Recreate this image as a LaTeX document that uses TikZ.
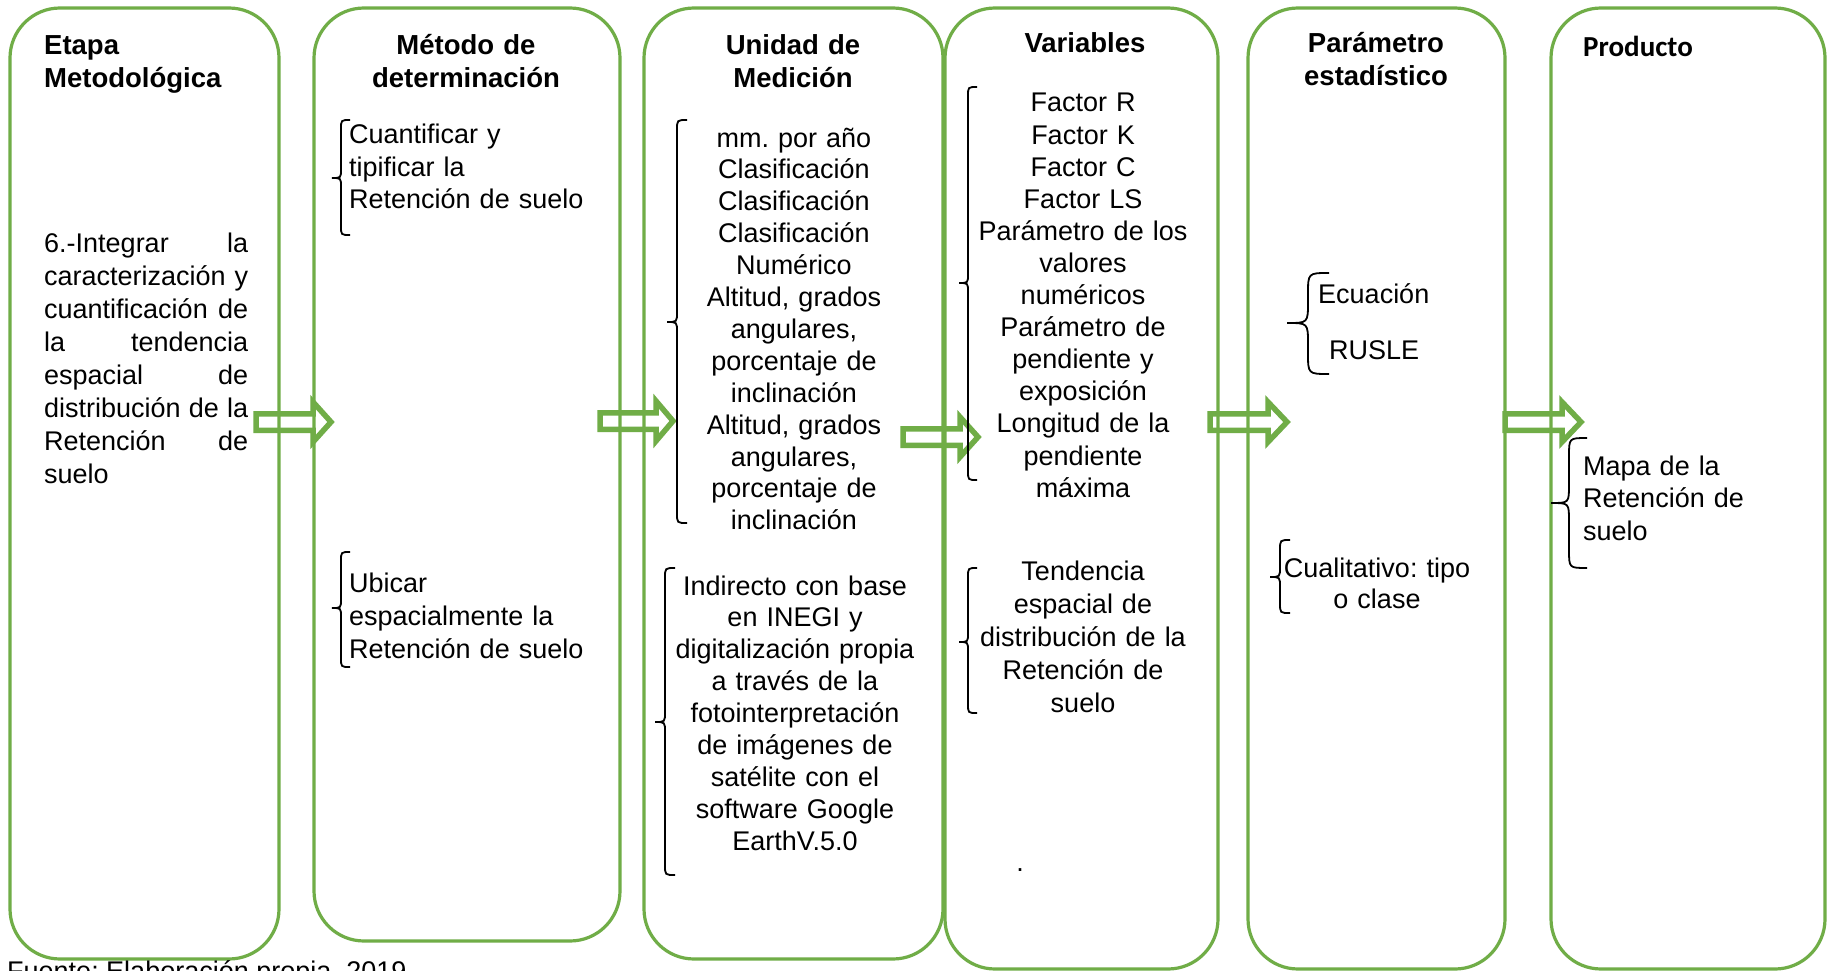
\documentclass[tikz,border=0pt]{standalone}
\usepackage{fontspec}
\setmainfont{Liberation Sans}
\newfontfamily\carlitofam{Carlito}
\definecolor{gr}{RGB}{112,173,71}
\frenchspacing
\newcommand\cbrace[5]{\draw[bracel] (#1+#5,#2) .. controls (#1,#2) .. (#1,#2+#5) -- (#1,#3-#5) .. controls (#1,#3) .. (#1-#5,#3) .. controls (#1,#3) .. (#1,#3+#5) -- (#1,#4-#5) .. controls (#1,#4) .. (#1+#5,#4);}
\newcommand\garrow[4]{\draw[garrowline] (#1,#4-8.25) -- (#2,#4-8.25) -- (#2,#4-20) -- (#3,#4) -- (#2,#4+20) -- (#2,#4+8.25) -- (#1,#4+8.25) -- cycle;}
\newcommand\jline[1]{\leavevmode\makebox[204pt][l]{#1}}
\begin{document}
\begin{tikzpicture}[x=1pt,y=-1pt,
  colbox/.style={draw=gr, line width=3.2pt, rounded corners=50pt, inner sep=0pt, outer sep=0pt},
  garrowline/.style={draw=gr, line width=5.5pt, line join=miter},
  bracel/.style={draw=black, line width=1.8pt},
  hdr/.style={font=\fontsize{27.5}{33}\selectfont\bfseries, inner sep=0pt, text width=300pt, align=center, anchor=base},
  hdrl/.style={font=\fontsize{27.5}{33}\selectfont\bfseries, inner sep=0pt, text width=220pt, align=left, anchor=base west},
  bodyc/.style={font=\fontsize{27}{32}\selectfont, inner sep=0pt, text width=290pt, align=center, anchor=base},
  bodyl/.style={font=\fontsize{27}{33}\selectfont, inner sep=0pt, text width=250pt, align=left, anchor=base west}
]
\useasboundingbox (0,0) rectangle (1828,971);
\clip (0,0) rectangle (1828,971);
\fill[white] (0,0) rectangle (1828,971);

% columns
\node[colbox, minimum width=269pt, minimum height=951pt] (b1) at (144.5,483.5) {};
\node[colbox, minimum width=306pt, minimum height=933pt] (b2) at (467,474.5) {};
\node[colbox, minimum width=299pt, minimum height=951pt] (b3) at (793.5,483.5) {};
\node[colbox, minimum width=273pt, minimum height=961pt] (b4) at (1081.5,488.5) {};
\node[colbox, minimum width=257pt, minimum height=961pt] (b5) at (1376.5,488.5) {};
\node[colbox, minimum width=274pt, minimum height=961pt] (b6) at (1688,488.5) {};

% block arrows
\garrow{256}{313}{331}{422}
\garrow{600}{656}{673}{421}
\garrow{903}{960}{978}{437}
\garrow{1210}{1268}{1287}{422}
\garrow{1505}{1562}{1581}{422}

% headers
\node[hdrl] (h1) at (44,55) {Etapa\\Metodológica};
\node[hdr] (h2) at (466,55) {Método de\\determinación};
\node[hdr] (h3) at (793,55) {Unidad de\\Medición};
\node[hdr] (h4) at (1085,53) {Variables};
\node[hdr] (h5) at (1376,53) {Parámetro\\estadístico};
\node[inner sep=0pt, anchor=base west, font=\carlitofam\fontsize{29}{33}\selectfont\bfseries] (h6) at (1583,57) {Producto};

% column 1
\node[inner sep=0pt, anchor=base west, text width=204pt, align=left, font=\fontsize{27}{33}\selectfont] (t1) at (44,252)
 {\jline{6.-Integrar\hfill la}\\
  \jline{caracterización\hfill y}\\
  \jline{cuantificación\hfill de}\\
  \jline{la\hfill tendencia}\\
  \jline{espacial\hfill de}\\
  \jline{distribución\hfill de\hfill la}\\
  \jline{Retención\hfill de}\\
  suelo};

% column 2
\cbrace{341}{120}{178}{235}{9}
\node[bodyl] (t2a) at (349,143) {Cuantificar y\\tipificar la\\Retención de suelo};
\cbrace{341}{552}{608}{667}{9}
\node[bodyl] (t2b) at (349,592) {Ubicar\\espacialmente la\\Retención de suelo};

% column 3
\cbrace{677}{120}{322}{523}{10}
\node[bodyc, font=\fontsize{27}{31.9}\selectfont] (t3a) at (794,147) {mm. por año\\Clasificación\\Clasificación\\Clasificación\\Numérico\\Altitud, grados\\angulares,\\porcentaje de\\inclinación\\Altitud, grados\\angulares,\\porcentaje de\\inclinación};
\cbrace{665}{568}{722}{875}{10}
\node[bodyc, font=\fontsize{27}{31.9}\selectfont] (t3b) at (795,595) {Indirecto con base\\en INEGI y\\digitalización propia\\a través de la\\fotointerpretación\\de imágenes de\\satélite con el\\software Google\\EarthV.5.0};

% column 4
\cbrace{968}{87}{283}{480}{9}
\node[bodyc, font=\fontsize{27}{32.1}\selectfont] (t4a) at (1083,112) {Factor R\\Factor K\\Factor C\\Factor LS\\Parámetro de los\\valores\\numéricos\\Parámetro de\\pendiente y\\exposición\\Longitud de la\\pendiente\\máxima};
\cbrace{968}{568}{642}{713}{9}
\node[bodyc, font=\fontsize{27}{33}\selectfont] (t4b) at (1083,580) {Tendencia\\espacial de\\distribución de la\\Retención de\\suelo};
\node[inner sep=0pt, anchor=base, font=\fontsize{27}{32}\selectfont] (t4c) at (1020,871) {.};

% column 5
\cbrace{1308}{273}{323}{374}{21}
\node[inner sep=0pt, anchor=base west, font=\fontsize{27}{32}\selectfont] (t5a) at (1318,303) {Ecuación};
\node[inner sep=0pt, anchor=base west, font=\fontsize{27}{32}\selectfont] (t5b) at (1329,359) {RUSLE};
\cbrace{1280}{540}{577}{613}{10}
\node[bodyc, font=\fontsize{27}{31}\selectfont] (t5c) at (1377,577) {Cualitativo: tipo\\o clase};

% column 6
\cbrace{1569}{438}{503}{568}{18}
\node[bodyl, font=\fontsize{27}{32.5}\selectfont] (t6) at (1583,475) {Mapa de la\\Retención de\\suelo};

% source (cut off at the bottom edge, as in the reference)
\node[inner sep=0pt, anchor=base west, font=\fontsize{27}{32}\selectfont] (src) at (7,980) {Fuente: Elaboración propia, 2019};
\end{tikzpicture}
\end{document}
